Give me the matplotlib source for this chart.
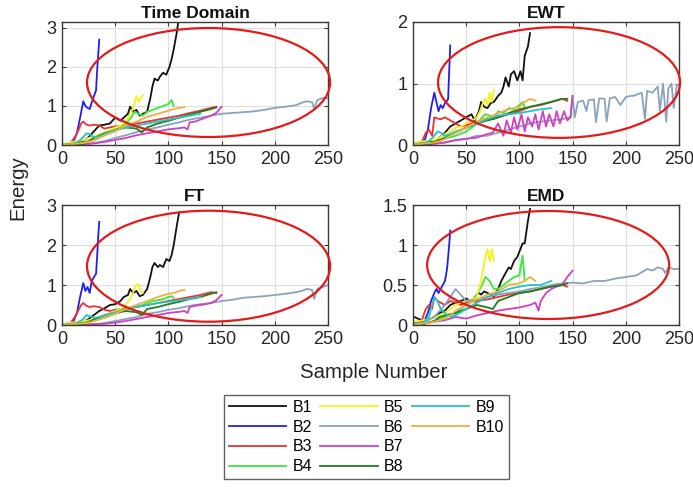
import matplotlib
matplotlib.use("Agg")
import matplotlib.pyplot as plt
from matplotlib.patches import Ellipse
from matplotlib.lines import Line2D

plt.rcParams['font.family'] = ['Liberation Sans', 'DejaVu Sans']

labels = ['B1', 'B2', 'B3', 'B4', 'B5', 'B6', 'B7', 'B8', 'B9', 'B10']
colors = ['#111111', '#2020ee', '#f03030', '#3ae83a', '#f2f21a', '#8aa2bc',
          '#d040c0', '#1f7f1f', '#22c4c4', '#eeb040']

# sample numbers per bearing
X1 = [1,10,20,25,30,35,40,45,50,55,58,62,64,67,70,73,76,80,83,85,87,90,92,95,98,101,103,105,108,110]
X2 = [1,8,11,14,17,20,22,24,26,28,30,32,33,34,35]
X3 = [1,8,12,15,18,20,23,26,30,35,40,45,50,60,70,80,90,100,110,120,130,140,145]
X4 = [1,10,20,30,40,50,55,60,65,68,72,76,80,85,90,95,100,103,105]
X5 = [1,5,10,15,20,25,30,35,40,45,50,55,60,63,66,68,70,72,74,76]
X6 = [1,10,20,30,40,50,60,70,80,90,100,110,120,130,140,150,160,170,180,190,200,210,220,225,230,235,237,240,245,250]
X7 = [1,10,20,30,40,50,60,70,80,90,100,110,115,118,120,125,130,135,140,145,150]
X8 = [1,10,20,25,30,40,50,60,70,75,80,90,100,110,120,130,140,145]
X9 = [1,10,15,20,23,26,30,35,40,50,60,70,80,90,100,110,120,130]
X10 = [1,10,20,25,30,35,40,50,60,70,80,90,100,105,110,115]
EWT_X6 = [1,10,20,30,40,50,60,70,80,90,100,110,120,130,140,148,150,152,155,160,163,165,170,172,175,
          180,182,185,190,195,200,205,208,210,215,218,220,225,230,232,235,238,240,243,245,248,250]
EWT_X7 = [1,10,20,30,40,50,60,70,75,80,85,88,92,95,98,102,105,108,112,115,118,122,125,128,132,135,138,142,145,148,150]

# Time Domain energy
TD_B1 = [0.02,0.03,0.1,0.2,0.35,0.5,0.52,0.55,0.7,0.62,0.7,0.8,0.98,0.85,0.9,0.75,0.8,0.85,1.2,1.5,1.7,1.65,1.75,1.85,1.8,2.0,2.2,2.45,2.9,3.3]
TD_B2 = [0.02,0.03,0.1,0.3,0.7,1.12,1.0,0.95,0.92,1.1,1.25,1.4,1.9,2.3,2.7]
TD_B3 = [0.02,0.05,0.2,0.35,0.55,0.6,0.52,0.5,0.52,0.5,0.42,0.45,0.48,0.5,0.55,0.6,0.65,0.7,0.75,0.82,0.88,0.95,0.98]
TD_B4 = [0.01,0.02,0.05,0.12,0.25,0.4,0.45,0.55,0.7,0.85,0.8,0.75,0.85,0.9,0.95,1.0,1.05,1.15,1.0]
TD_B5 = [0.02,0.05,0.08,0.1,0.12,0.18,0.2,0.28,0.32,0.38,0.45,0.5,0.6,0.75,0.9,1.05,1.25,1.1,1.2,1.28]
TD_B6 = [0.0,0.01,0.02,0.05,0.1,0.18,0.25,0.33,0.4,0.45,0.52,0.58,0.65,0.7,0.75,0.8,0.82,0.84,0.86,0.9,0.95,0.98,1.02,1.08,1.12,1.1,0.93,1.15,1.2,1.2]
TD_B7 = [0.0,0.01,0.02,0.04,0.08,0.13,0.18,0.25,0.3,0.35,0.4,0.43,0.45,0.4,0.58,0.6,0.65,0.7,0.75,0.82,0.98]
TD_B8 = [0.0,0.01,0.03,0.1,0.18,0.3,0.38,0.45,0.42,0.32,0.45,0.55,0.62,0.7,0.78,0.85,0.92,0.96]
TD_B9 = [0.01,0.03,0.08,0.2,0.3,0.28,0.2,0.22,0.28,0.38,0.45,0.5,0.55,0.6,0.65,0.7,0.75,0.8]
TD_B10 = [0.0,0.02,0.05,0.08,0.12,0.18,0.25,0.35,0.5,0.6,0.72,0.8,0.88,0.92,0.95,0.97]

# EWT energy
EWT_B1 = [0.02,0.03,0.06,0.12,0.2,0.3,0.35,0.4,0.45,0.5,0.4,0.55,0.7,0.62,0.6,0.68,0.7,0.8,0.85,0.95,1.1,0.95,1.15,1.2,1.05,1.2,1.05,1.45,1.6,1.82]
EWT_B2 = [0.02,0.03,0.08,0.25,0.6,0.85,0.7,0.55,0.65,0.6,0.68,0.72,0.75,1.2,1.62]
EWT_B3 = [0.02,0.04,0.2,0.25,0.15,0.45,0.43,0.42,0.45,0.4,0.35,0.3,0.32,0.38,0.42,0.45,0.5,0.55,0.62,0.65,0.7,0.75,0.72]
EWT_B4 = [0.01,0.02,0.04,0.1,0.15,0.22,0.28,0.35,0.45,0.5,0.48,0.42,0.55,0.52,0.6,0.58,0.65,0.7,0.62]
EWT_B5 = [0.03,0.05,0.06,0.07,0.08,0.12,0.18,0.22,0.28,0.3,0.35,0.38,0.45,0.55,0.7,0.75,0.65,0.85,0.7,0.9]
EWT_B6 = [0.0,0.01,0.02,0.04,0.08,0.1,0.15,0.15,0.2,0.25,0.3,0.35,0.38,0.4,0.42,0.45,0.8,0.45,0.7,0.72,
          0.55,0.73,0.74,0.37,0.76,0.75,0.38,0.76,0.78,0.65,0.78,0.8,0.8,0.82,0.85,0.42,0.88,0.85,0.95,0.55,
          1.0,0.38,0.92,1.0,0.6,0.98,0.97]
EWT_B7 = [0.0,0.01,0.02,0.04,0.08,0.1,0.12,0.18,0.2,0.35,0.15,0.4,0.2,0.45,0.25,0.5,0.22,0.45,0.3,0.5,
          0.25,0.55,0.3,0.5,0.3,0.55,0.35,0.55,0.4,0.45,0.8]
EWT_B8 = [0.0,0.01,0.03,0.08,0.12,0.2,0.28,0.35,0.4,0.42,0.45,0.52,0.58,0.62,0.66,0.7,0.75,0.75]
EWT_B9 = [0.01,0.03,0.06,0.15,0.22,0.2,0.15,0.18,0.22,0.28,0.35,0.42,0.48,0.5,0.52,0.55,0.58,0.6]
EWT_B10 = [0.0,0.02,0.04,0.06,0.1,0.15,0.2,0.28,0.38,0.45,0.52,0.58,0.62,0.7,0.75,0.72]

# FT energy
FT_B1 = [0.02,0.03,0.08,0.15,0.25,0.35,0.42,0.5,0.52,0.6,0.7,0.75,0.9,0.8,0.85,0.72,0.75,0.9,1.2,1.45,1.55,1.45,1.5,1.45,1.65,1.6,1.75,2.0,2.5,2.8]
FT_B2 = [0.02,0.03,0.1,0.3,0.7,1.05,0.85,0.95,0.8,1.1,1.2,1.28,1.7,2.2,2.58]
FT_B3 = [0.02,0.05,0.2,0.35,0.5,0.55,0.48,0.45,0.47,0.45,0.38,0.35,0.38,0.42,0.45,0.5,0.55,0.6,0.65,0.7,0.75,0.82,0.8]
FT_B4 = [0.01,0.02,0.05,0.1,0.18,0.28,0.32,0.38,0.42,0.45,0.48,0.5,0.55,0.6,0.62,0.65,0.7,0.72,0.68]
FT_B5 = [0.02,0.04,0.06,0.08,0.1,0.12,0.15,0.2,0.25,0.3,0.35,0.4,0.5,0.6,0.75,0.9,1.0,1.02,0.85,0.8]
FT_B6 = [0.0,0.0,0.01,0.02,0.05,0.1,0.15,0.2,0.28,0.32,0.38,0.42,0.48,0.52,0.55,0.6,0.63,0.68,0.7,0.72,0.75,0.78,0.82,0.85,0.9,0.88,0.65,0.9,0.95,1.0]
FT_B7 = [0.0,0.0,0.01,0.02,0.03,0.06,0.1,0.15,0.2,0.25,0.3,0.33,0.35,0.3,0.45,0.48,0.5,0.52,0.55,0.62,0.75]
FT_B8 = [0.0,0.01,0.03,0.08,0.14,0.22,0.3,0.35,0.32,0.25,0.4,0.45,0.52,0.58,0.65,0.7,0.78,0.82]
FT_B9 = [0.01,0.03,0.06,0.15,0.25,0.22,0.18,0.2,0.25,0.32,0.4,0.45,0.5,0.55,0.58,0.62,0.65,0.7]
FT_B10 = [0.0,0.02,0.04,0.06,0.1,0.14,0.2,0.28,0.4,0.5,0.6,0.7,0.78,0.8,0.85,0.88]

# EMD energy
EMD_B1 = [0.1,0.05,0.1,0.15,0.18,0.25,0.28,0.3,0.33,0.3,0.35,0.4,0.38,0.42,0.4,0.38,0.35,0.45,0.55,0.6,0.65,0.72,0.7,0.8,0.85,0.95,1.02,1.02,1.3,1.45]
EMD_B2 = [0.03,0.04,0.06,0.15,0.3,0.4,0.45,0.4,0.45,0.5,0.55,0.7,0.85,1.0,1.18]
EMD_B3 = [0.02,0.05,0.2,0.25,0.2,0.35,0.3,0.28,0.25,0.3,0.28,0.25,0.28,0.3,0.32,0.35,0.38,0.4,0.42,0.45,0.48,0.5,0.48]
EMD_B4 = [0.01,0.02,0.05,0.1,0.15,0.25,0.3,0.38,0.5,0.6,0.55,0.45,0.45,0.5,0.55,0.6,0.62,0.87,0.55]
EMD_B5 = [0.04,0.05,0.06,0.08,0.1,0.12,0.15,0.2,0.25,0.28,0.3,0.32,0.35,0.5,0.7,0.85,0.95,0.8,0.95,0.8]
EMD_B6 = [0.02,0.03,0.1,0.25,0.45,0.3,0.32,0.35,0.38,0.4,0.42,0.45,0.47,0.5,0.52,0.53,0.52,0.55,0.55,0.58,0.6,0.62,0.7,0.68,0.72,0.7,0.65,0.72,0.7,0.7]
EMD_B7 = [0.0,0.02,0.04,0.06,0.1,0.08,0.12,0.15,0.18,0.2,0.22,0.25,0.28,0.18,0.3,0.4,0.45,0.48,0.5,0.6,0.68]
EMD_B8 = [0.0,0.01,0.05,0.1,0.12,0.15,0.2,0.25,0.22,0.2,0.3,0.35,0.4,0.42,0.45,0.48,0.5,0.52]
EMD_B9 = [0.01,0.03,0.1,0.35,0.3,0.2,0.15,0.1,0.12,0.2,0.28,0.35,0.4,0.45,0.48,0.5,0.5,0.55]
EMD_B10 = [0.0,0.02,0.04,0.06,0.08,0.12,0.18,0.25,0.32,0.38,0.42,0.5,0.52,0.55,0.6,0.55]

titles = ['Time Domain', 'EWT', 'FT', 'EMD']
ylims = [3.15, 2.0, 3.0, 1.5]
yticks = [[0, 1, 2, 3], [0, 1, 2], [0, 1, 2, 3], [0, 0.5, 1, 1.5]]
ytlabels = [['0', '1', '2', '3'], ['0', '1', '2'], ['0', '1', '2', '3'], ['0', '0.5', '1', '1.5']]
xticks = [0, 50, 100, 150, 200, 250]

panels = [
    (list(zip([X1, X2, X3, X4, X5, X6, X7, X8, X9, X10],
              [TD_B1, TD_B2, TD_B3, TD_B4, TD_B5, TD_B6, TD_B7, TD_B8, TD_B9, TD_B10]))),
    (list(zip([X1, X2, X3, X4, X5, EWT_X6, EWT_X7, X8, X9, X10],
              [EWT_B1, EWT_B2, EWT_B3, EWT_B4, EWT_B5, EWT_B6, EWT_B7, EWT_B8, EWT_B9, EWT_B10]))),
    (list(zip([X1, X2, X3, X4, X5, X6, X7, X8, X9, X10],
              [FT_B1, FT_B2, FT_B3, FT_B4, FT_B5, FT_B6, FT_B7, FT_B8, FT_B9, FT_B10]))),
    (list(zip([X1, X2, X3, X4, X5, X6, X7, X8, X9, X10],
              [EMD_B1, EMD_B2, EMD_B3, EMD_B4, EMD_B5, EMD_B6, EMD_B7, EMD_B8, EMD_B9, EMD_B10]))),
]

W, H = 693, 487
fig = plt.figure(figsize=(W / 100, H / 100), dpi=100)
fig.patch.set_facecolor('white')

# axes boxes in pixels: left, top, right, bottom
boxes = [(62, 22, 328, 145), (413, 22, 679, 145), (62, 205, 328, 325), (413, 205, 679, 325)]
# ellipses in axes fractions: cx, cy, w, h
ells = [(0.551, 0.508, 0.914, 0.886), (0.549, 0.508, 0.91, 0.90),
        (0.551, 0.49, 0.914, 0.925), (0.508, 0.5, 0.91, 0.90)]

for i in range(4):
    l, t, r, b = boxes[i]
    ax = fig.add_axes([l / W, 1 - b / H, (r - l) / W, (b - t) / H])
    for (xs, ys), c in zip(panels[i], colors):
        ax.plot(xs, ys, color=c, lw=1.3)
    ax.set_xlim(0, 250)
    ax.set_ylim(0, ylims[i])
    ax.set_xticks(xticks)
    ax.set_yticks(yticks[i])
    ax.set_yticklabels(ytlabels[i])
    ax.grid(True, color='#dedede', lw=0.8)
    ax.set_axisbelow(True)
    for s in ax.spines.values():
        s.set_color('#3a3a3a')
        s.set_linewidth(1.0)
    ax.tick_params(direction='in', length=3, width=0.8, top=True, right=True,
                   labelsize=13, colors='#3a3a3a', labelcolor='#262626', pad=4)
    ax.set_title(titles[i], fontsize=12.5, fontweight='bold', pad=3, color='#111111')
    cx, cy, ew, eh = ells[i]
    ax.add_patch(Ellipse((cx, cy), ew, eh, transform=ax.transAxes, fill=False,
                         edgecolor='#e41a1a', lw=1.6, clip_on=False, zorder=5))

fig.text(18 / W, 1 - 188 / H, 'Energy', rotation=90, ha='center', va='center',
         fontsize=14.7, color='#262626')
fig.text(374 / W, 1 - 373 / H, 'Sample Number', ha='center', va='center',
         fontsize=14.7, color='#262626')

handles = [Line2D([], [], color=c, lw=1.3) for c in colors]
handles += [Line2D([], [], color='none'), Line2D([], [], color='none')]
labs = labels + ['', '']
leg = fig.legend(handles, labs, ncol=3, loc='upper left',
                 bbox_to_anchor=(224 / W, 1 - 395 / H), frameon=True, fancybox=False,
                 edgecolor='#3a3a3a', fontsize=11.5, handlelength=3.6, handletextpad=0.4,
                 columnspacing=0.5, labelspacing=0.3, borderpad=0.3, borderaxespad=0)
leg.get_frame().set_linewidth(1.0)

fig.savefig('out.png', dpi=100)
